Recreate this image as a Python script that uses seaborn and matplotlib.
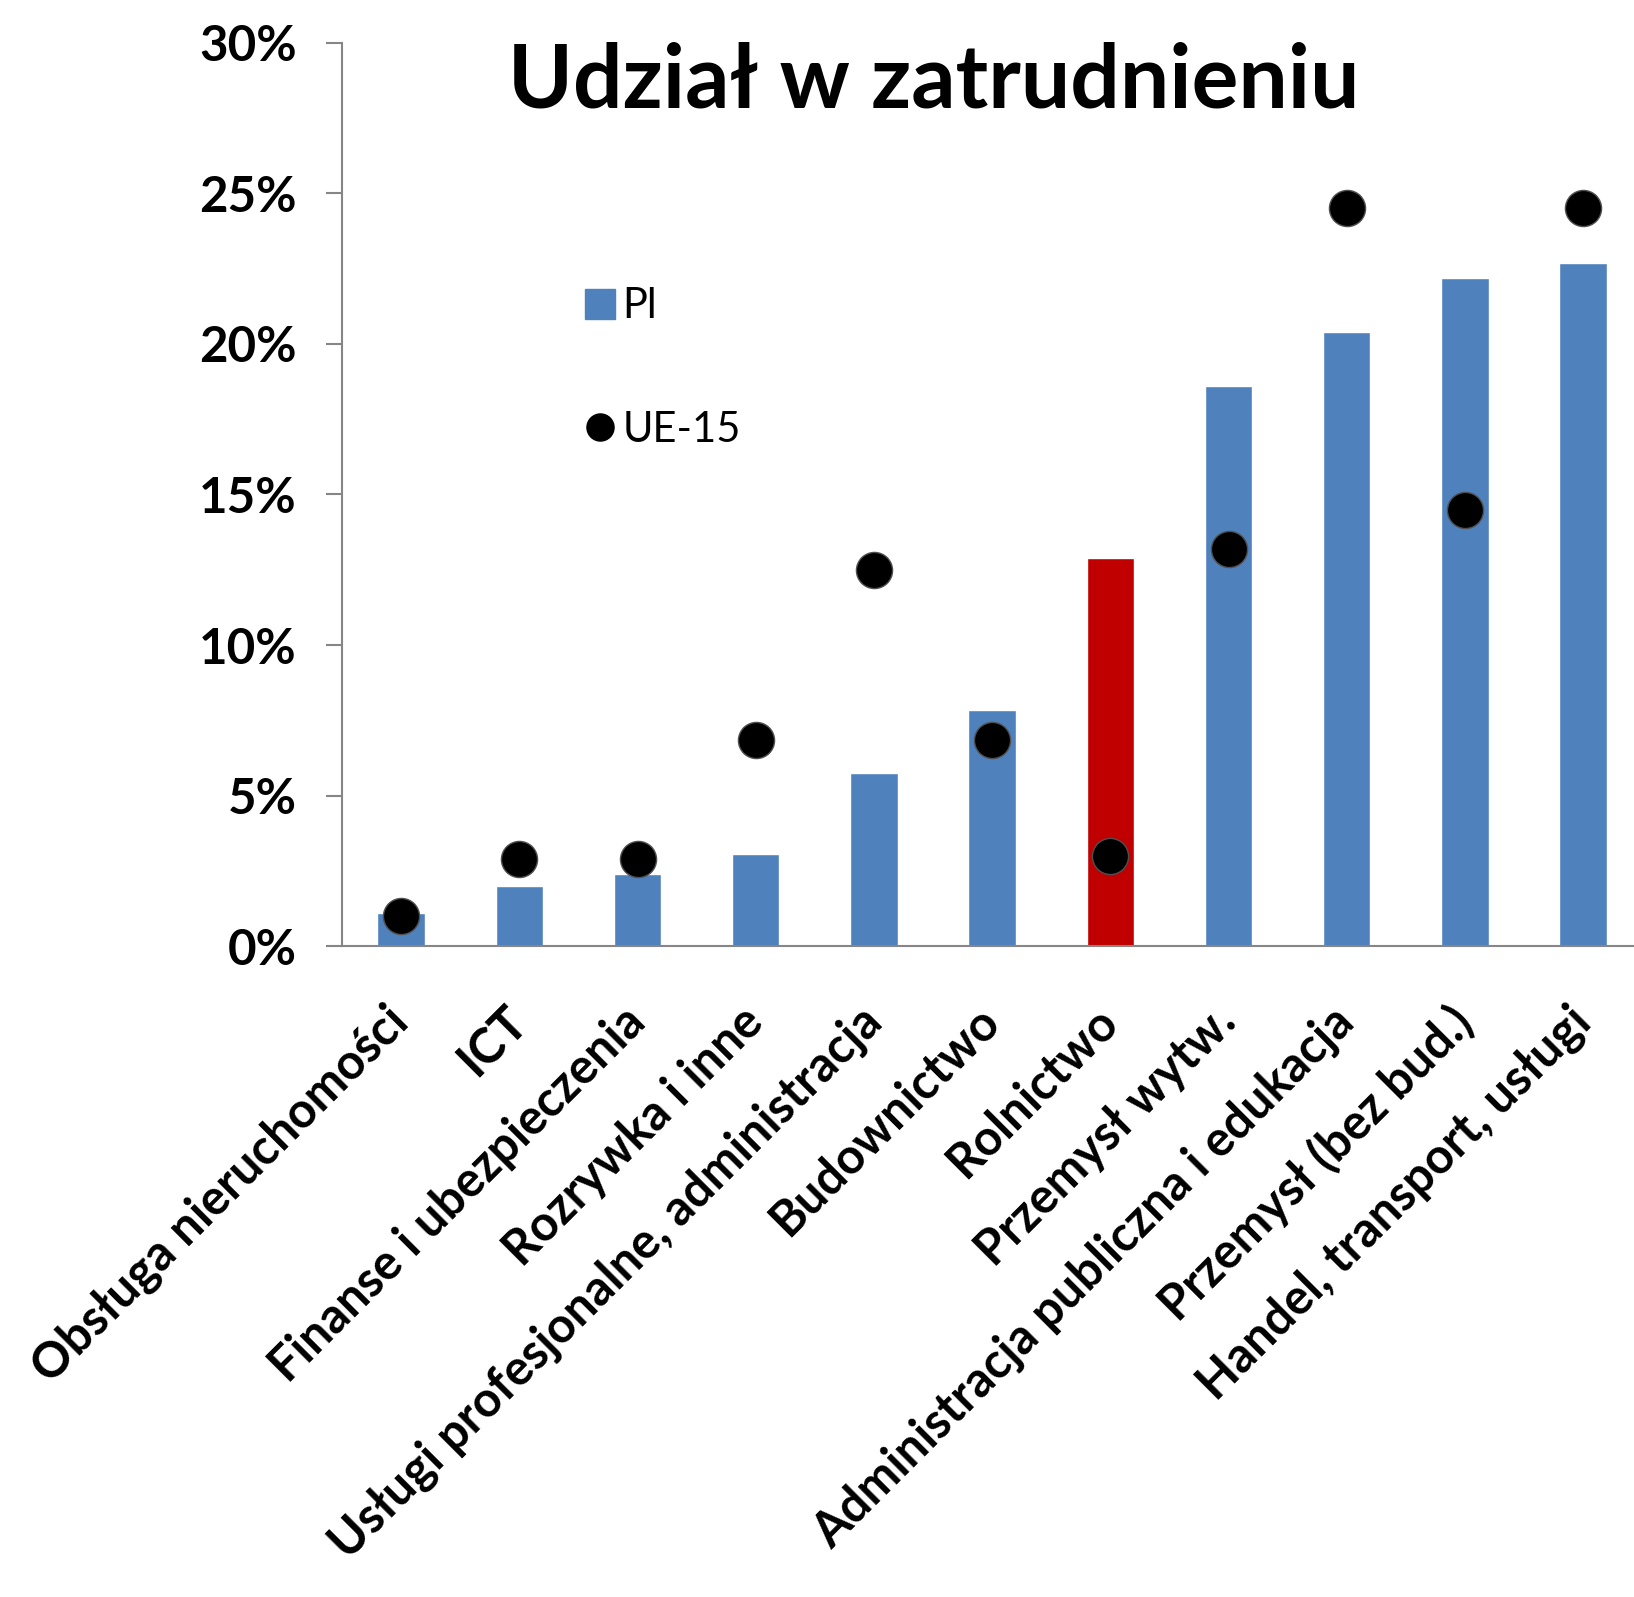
import matplotlib
matplotlib.use("Agg")
import matplotlib.pyplot as plt
import numpy as np
import seaborn as sns
from matplotlib.lines import Line2D
from matplotlib.transforms import ScaledTranslation

sns.set_style("white")
plt.rcParams['font.family'] = ['Lato', 'DejaVu Sans']
plt.rcParams.update({'text.color': 'black', 'xtick.color': 'black', 'ytick.color': 'black'})

# data (udział w zatrudnieniu, %)
categories = ["Obsługa nieruchomości", "ICT", "Finanse i ubezpieczenia",
              "Rozrywka i inne", "Usługi profesjonalne, administracja",
              "Budownictwo", "Rolnictwo", "Przemysł wytw.",
              "Administracja publiczna i edukacja", "Przemysł (bez bud.)",
              "Handel, transport, usługi"]
pl_share = [1.1, 2.0, 2.4, 3.05, 5.75, 7.85, 12.9, 18.6, 20.4, 22.2, 22.7]
ue15_share = [1.0, 2.9, 2.9, 6.85, 12.5, 6.85, 3.0, 13.2, 24.5, 14.5, 24.5]
y_ticks = [0, 5, 10, 15, 20, 25, 30]
highlight = "Rolnictwo"

blue = "#4F81BD"
red = "#C00000"
axis_grey = "#868686"
bar_colors = [red if c == highlight else blue for c in categories]

W, H = 1634, 1597
fig = plt.figure(figsize=(W / 100, H / 100), dpi=100)
# axes runs past the right edge of the picture, like the original
ax = fig.add_axes([342 / W, 1 - 946.3 / H, 1300.2 / W, 903.6 / H])

sns.barplot(x=categories, y=pl_share, hue=categories, palette=bar_colors,
            width=0.4, saturation=1, legend=False, ax=ax)
sns.stripplot(x=categories, y=ue15_share, jitter=False, color="black",
              size=26, edgecolor="#505050", linewidth=1, ax=ax, zorder=5)

ax.set_xlim(-0.5, len(categories) - 0.5)
ax.set_ylim(0, 30)
ax.set_yticks(y_ticks)
ax.set_yticklabels([f"{t}%" for t in y_ticks], fontsize=35.5, fontweight="bold")
ax.set_xticks(range(len(categories)))
ax.set_xticklabels(categories, fontsize=35, fontweight="bold", rotation=45,
                   ha="right", va="center", rotation_mode="anchor")
shift = ScaledTranslation(6 / 72, 0, fig.dpi_scale_trans)
for lab in ax.get_xticklabels():
    lab.set_transform(lab.get_transform() + shift)
ax.set_xticks(np.arange(-0.5, len(categories), 1), minor=True)
ax.tick_params(axis="x", which="major", length=0, pad=49, labelcolor="black")
ax.tick_params(axis="x", which="minor", length=11, width=1.5, color=axis_grey, direction="out")
ax.tick_params(axis="y", length=11.5, width=1.5, color=axis_grey, pad=21,
               direction="out", left=True, labelcolor="black")
ax.set_xlabel("")
ax.set_ylabel("")

for s in ["top", "right"]:
    ax.spines[s].set_visible(False)
for s in ["left", "bottom"]:
    ax.spines[s].set_color(axis_grey)
    ax.spines[s].set_linewidth(1.5)

handles = [Line2D([], [], marker="s", linestyle="none", color=blue, markersize=21),
           Line2D([], [], marker="o", linestyle="none", color="black", markersize=19.5)]
fig.legend(handles, ["Pl", "UE-15"], loc="center left",
           bbox_to_anchor=(579 / W, 1 - 368 / H), frameon=False,
           fontsize=30, handlelength=1.0, handletextpad=0.05,
           labelspacing=2.05, borderpad=0, borderaxespad=0, labelcolor="black")

fig.text(934 / W, 1 - 107 / H, "Udział w zatrudnieniu", fontsize=63,
         fontweight="bold", ha="center", va="baseline", color="black")

fig.savefig("out.png", dpi=100)
